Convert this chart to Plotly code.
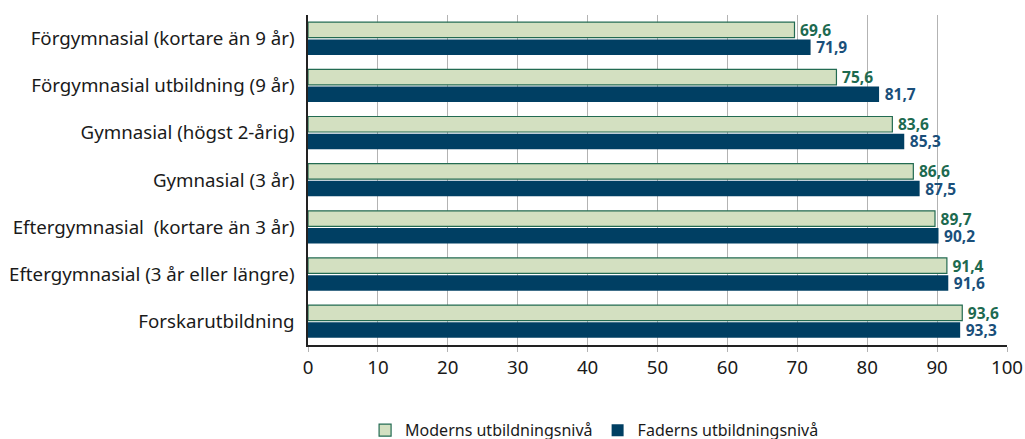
import plotly.graph_objects as go

categories = [
    "Förgymnasial (kortare än 9 år)",
    "Förgymnasial utbildning (9 år)",
    "Gymnasial (högst 2-årig)",
    "Gymnasial (3 år)",
    "Eftergymnasial  (kortare än 3 år)",
    "Eftergymnasial (3 år eller längre)",
    "Forskarutbildning",
]
mother = [69.6, 75.6, 83.6, 86.6, 89.7, 91.4, 93.6]
father = [71.9, 81.7, 85.3, 87.5, 90.2, 91.6, 93.3]
series_names = ["Moderns utbildningsnivå", "Faderns utbildningsnivå"]
x_ticks = [0, 10, 20, 30, 40, 50, 60, 70, 80, 90, 100]

def fmt(v):
    return "\u2009" + f"{v:.1f}".replace(".", ",")

fig = go.Figure()
fig.add_trace(go.Bar(
    y=categories, x=mother, orientation="h", name=series_names[0],
    marker=dict(color="#d3e0c1", line=dict(color="#236b52", width=1.2)),
    text=[fmt(v) for v in mother], textposition="outside", constraintext="none",
    textfont=dict(color="#1d6a50", size=15.5, family="Noto Sans", weight="bold"),
    cliponaxis=False,
))
fig.add_trace(go.Bar(
    y=categories, x=father, orientation="h", name=series_names[1],
    marker=dict(color="#003f63", line=dict(color="#003f63", width=0)),
    text=[fmt(v) for v in father], textposition="outside", constraintext="none",
    textfont=dict(color="#1a4f7a", size=15.5, family="Noto Sans", weight="bold"),
    cliponaxis=False,
))

fig.update_layout(
    width=1025, height=439,
    margin=dict(l=308, r=18, t=15, b=94, autoexpand=False),
    barmode="group", bargap=0.27, bargroupgap=0.1,
    plot_bgcolor="white", paper_bgcolor="white",
    font=dict(family="Noto Sans", size=18.7, color="#1a1a1a"),
    legend=dict(orientation="h", x=0.41, xanchor="center", y=-0.207, yanchor="top",
                font=dict(size=16), traceorder="normal"),
    xaxis=dict(range=[0, 100], tickvals=x_ticks, showgrid=True, gridcolor="#b3b3b3",
               gridwidth=1, showline=True, linecolor="#222", linewidth=1.5,
               ticks="outside", ticklen=5, tickcolor="#b3b3b3", zeroline=False,
               tickfont=dict(size=18.7), automargin=False),
    yaxis=dict(autorange="reversed", showline=True, linecolor="#222", linewidth=1.5,
               ticks="", ticklabelstandoff=8, tickfont=dict(size=18.7), automargin=False),
)

fig.write_html(
    "out.html",
    config={"displayModeBar": False},
    post_script="document.body.style.margin='0';document.body.style.overflow='hidden';",
)
